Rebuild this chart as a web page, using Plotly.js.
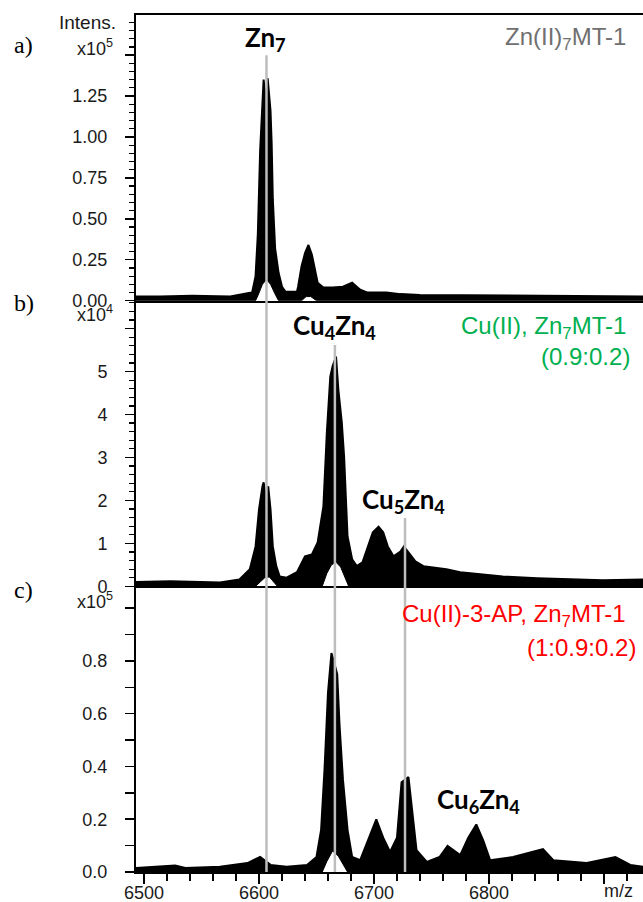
<!DOCTYPE html>
<html>
<head>
<meta charset="utf-8">
<script src="https://cdn.plot.ly/plotly-3.0.1.min.js"></script>
<style>html,body{margin:0;padding:0;background:#fff;}#chart{width:643px;height:902px;}</style>
</head>
<body>
<div id="chart"></div>
<script>
// ---- Panel a: Zn(II)7MT-1 (intensity x10^5) ----
const mzA  = [6493,6514,6542,6575,6590,6594,6597,6599,6601,6603,6604,6606,6607.5,6610,6611,6612,6614,6617,6620,6623,6633,6634,6637,6640,6643,6646,6649,6651,6656,6664,6673,6681,6688,6694,6711,6723,6740,6810,6879,6934];
const intA = [0.025,0.025,0.03,0.025,0.045,0.05,0.15,0.41,0.92,1.27,1.35,1.22,1.36,1.16,0.96,0.62,0.32,0.17,0.085,0.055,0.055,0.085,0.21,0.29,0.34,0.28,0.19,0.11,0.08,0.08,0.085,0.11,0.067,0.05,0.05,0.04,0.035,0.03,0.028,0.025];
const mzAlow  = [6493,6597,6599,6603,6606.5,6610,6614,6617,6637,6641,6645,6650,6934];
const lowA    = [0,0,0.03,0.1,0.13,0.1,0.04,0,0,0.025,0.025,0,0];

// ---- Panel b: Cu(II), Zn7MT-1 (intensity x10^4) ----
const mzB  = [6493,6523,6549,6566,6583,6592,6597,6600,6603,6604,6606,6608,6610,6612,6615,6618,6624,6633,6640,6646,6651,6656,6659,6662,6664,6667,6669,6672,6674,6676,6677,6681,6685,6690,6695,6699,6704,6708,6712,6717,6723,6726,6730,6736,6743,6751,6763,6775,6792,6812,6842,6870,6899,6934];
const intB = [0.1,0.12,0.1,0.09,0.16,0.4,0.93,1.79,2.33,2.42,2.1,2.33,1.79,0.93,0.47,0.23,0.2,0.33,0.7,0.74,1.02,1.86,3.58,4.88,5.12,5.35,4.58,3.81,3.02,1.95,1.16,0.63,0.47,0.56,0.93,1.26,1.39,1.26,0.93,0.7,0.81,0.93,0.79,0.58,0.47,0.44,0.4,0.33,0.28,0.23,0.19,0.16,0.14,0.16];
const mzBlow  = [6493,6597,6601,6605,6609,6613,6616,6655,6659,6663,6667,6671,6675,6678,6934];
const lowB    = [0,0,0.1,0.2,0.22,0.1,0,0,0.3,0.5,0.56,0.45,0.2,0,0];

// ---- Panel c: Cu(II)-3-AP, Zn7MT-1 (intensity x10^5) ----
const mzC  = [6493,6527,6536,6566,6590,6601,6610,6624,6642,6650,6654,6657,6660,6663,6665,6668,6670,6673,6677,6681,6688,6694,6702,6708,6714,6720,6724,6730,6733,6737,6746,6757,6764,6775,6782,6789,6795,6801,6821,6847,6856,6885,6910,6923,6934];
const intC = [0.015,0.025,0.015,0.02,0.034,0.057,0.027,0.02,0.027,0.057,0.16,0.39,0.68,0.83,0.8,0.75,0.56,0.35,0.16,0.057,0.045,0.11,0.2,0.13,0.076,0.13,0.34,0.36,0.25,0.083,0.038,0.057,0.099,0.064,0.13,0.18,0.12,0.045,0.057,0.087,0.045,0.034,0.057,0.027,0.02];
const mzClow  = [6493,6655,6659,6664,6669,6674,6677,6934];
const lowC    = [0,0,0.04,0.08,0.06,0.02,0,0];

// ---- reference lines and labels ----
const lineMz    = [6606.5, 6666, 6727];
const lineTops  = [0.953, 0.615, 0.413];
const speciesMz = [6606, 6666, 6726, 6791];
const speciesY  = [0.973, 0.636, 0.434, 0.084];
const speciesTx = ['Zn<sub>7</sub>','Cu<sub>4</sub>Zn<sub>4</sub>','Cu<sub>5</sub>Zn<sub>4</sub>','Cu<sub>6</sub>Zn<sub>4</sub>'];
const xTickVals = [6500,6600,6700,6800,6900];
const xTickText = ['6500','6600','6700','6800',''];

const xRange = [6493, 6934];
const tickFont = {family:'Liberation Sans, Arial, sans-serif', size:18, color:'#1a1a1a'};

function pair(mz, low, mzUp, up, xa, ya){
  return [
    {x:mz, y:low, xaxis:xa, yaxis:ya, mode:'lines', line:{color:'#000', width:1}, hoverinfo:'skip', showlegend:false},
    {x:mzUp, y:up, xaxis:xa, yaxis:ya, mode:'lines', line:{color:'#000', width:2}, fill:'tonexty', fillcolor:'#000', hoverinfo:'skip', showlegend:false}
  ];
}
const data = [].concat(
  pair(mzAlow, lowA, mzA, intA, 'x', 'y'),
  pair(mzBlow, lowB, mzB, intB, 'x2', 'y2'),
  pair(mzClow, lowC, mzC, intC, 'x3', 'y3')
);

function yax(dom, range, tv, tt, minorDt){
  return {domain:dom, range:range, showline:true, linewidth:2, linecolor:'#000', ticks:'outside', ticklen:9, tickwidth:1.5, tickcolor:'#000',
    tickmode:'array', tickvals:tv, ticktext:tt, tickfont:tickFont, showgrid:false, zeroline:false, ticklabelstandoff:14,
    minor:{ticks:'outside', ticklen:5, tickwidth:1.2, tickcolor:'#000', tickmode:'linear', tick0:0, dtick:minorDt, showgrid:false}};
}
function xax(anchor, extra){
  return Object.assign({domain:[0,1], range:xRange, anchor:anchor, showline:true, linewidth:2, linecolor:'#000', ticks:'', showticklabels:false, showgrid:false, zeroline:false}, extra||{});
}

const shapes = lineMz.map((m,i)=>({type:'line', xref:'x3', yref:'paper', x0:m, x1:m, y0:0, y1:lineTops[i], line:{color:'#bdbdbd', width:2.5}, layer:'above'}));

const ann = [];
speciesTx.forEach((t,i)=>ann.push({xref:'x', yref:'paper', x:speciesMz[i], y:speciesY[i], text:'<b>'+t+'</b>', showarrow:false, xanchor:'center', yanchor:'middle', font:{family:'Lato, sans-serif', size:26, color:'#000'}}));
const rf = (c)=>({family:'Liberation Sans, Arial, sans-serif', size:24, color:c});
ann.push({xref:'paper', yref:'paper', x:0.970, y:0.973, text:'Zn(II)<sub>7</sub>MT-1', showarrow:false, xanchor:'right', yanchor:'middle', font:rf('#707070')});
ann.push({xref:'paper', yref:'paper', x:0.970, y:0.635, text:'Cu(II), Zn<sub>7</sub>MT-1', showarrow:false, xanchor:'right', yanchor:'middle', font:rf('#00b050')});
ann.push({xref:'paper', yref:'paper', x:0.978, y:0.602, text:'(0.9:0.2)', showarrow:false, xanchor:'right', yanchor:'middle', font:rf('#00b050')});
ann.push({xref:'paper', yref:'paper', x:0.970, y:0.299, text:'Cu(II)-3-AP, Zn<sub>7</sub>MT-1', showarrow:false, xanchor:'right', yanchor:'middle', font:rf('#ff0000')});
ann.push({xref:'paper', yref:'paper', x:0.990, y:0.2625, text:'(1:0.9:0.2)', showarrow:false, xanchor:'right', yanchor:'middle', font:rf('#ff0000')});
// panel letters
const serif = {family:'Liberation Serif, Times New Roman, serif', size:24, color:'#000'};
[['a)',0.965],['b)',0.664],['c)',0.329]].forEach(p=>ann.push({xref:'paper', yref:'paper', x:-0.245, y:p[1], text:p[0], showarrow:false, xanchor:'left', yanchor:'middle', font:serif}));
// axis captions
const cap = {family:'Liberation Sans, Arial, sans-serif', size:19, color:'#1a1a1a'};
ann.push({xref:'paper', yref:'paper', x:-0.035, y:0.991, text:'Intens.', showarrow:false, xanchor:'right', yanchor:'middle', font:cap});
[['x10<sup>5</sup>',0.962],['x10<sup>4</sup>',0.652],['x10<sup>5</sup>',0.317]].forEach(p=>ann.push({xref:'paper', yref:'paper', x:-0.041, y:p[1], text:p[0], showarrow:false, xanchor:'right', yanchor:'middle', font:{family:'Liberation Sans, Arial, sans-serif', size:18, color:'#1a1a1a'}}));
ann.push({xref:'paper', yref:'paper', x:0.951, y:-0.022, text:'m/z', showarrow:false, xanchor:'center', yanchor:'middle', font:tickFont});

const layout = {
  width:643, height:902, margin:{l:136, r:0, t:15, b:30}, paper_bgcolor:'#fff', plot_bgcolor:'#fff', showlegend:false,
  xaxis: xax('y', {mirror:true}),
  xaxis2: xax('y2'),
  xaxis3: xax('y3', {ticks:'outside', ticklen:10, tickwidth:1.5, tickcolor:'#000', showticklabels:true, tickmode:'array', tickvals:xTickVals, ticktext:xTickText, tickfont:tickFont, ticklabelstandoff:-7,
    minor:{ticks:'outside', ticklen:7, tickwidth:1.2, tickcolor:'#000', tickmode:'linear', tick0:6500, dtick:20, showgrid:false}}),
  yaxis: yax([2/3,1], [0,1.745], [0,0.25,0.5,0.75,1,1.25,1.5], ['0.00','0.25','0.50','0.75','1.00','1.25',''], 0.05),
  yaxis2: yax([1/3,2/3], [0,6.65], [0,1,2,3,4,5,6], ['0','1','2','3','4','5',''], 0.2),
  yaxis3: yax([0,1/3], [0,1.083], [0,0.1,0.2,0.3,0.4,0.5,0.6,0.7,0.8,0.9,1.0], ['0.0','','0.2','','0.4','','0.6','','0.8','',''], 0.1),
  shapes: shapes,
  annotations: ann
};
Plotly.newPlot('chart', data, layout, {displayModeBar:false, staticPlot:true});
</script>
</body>
</html>
